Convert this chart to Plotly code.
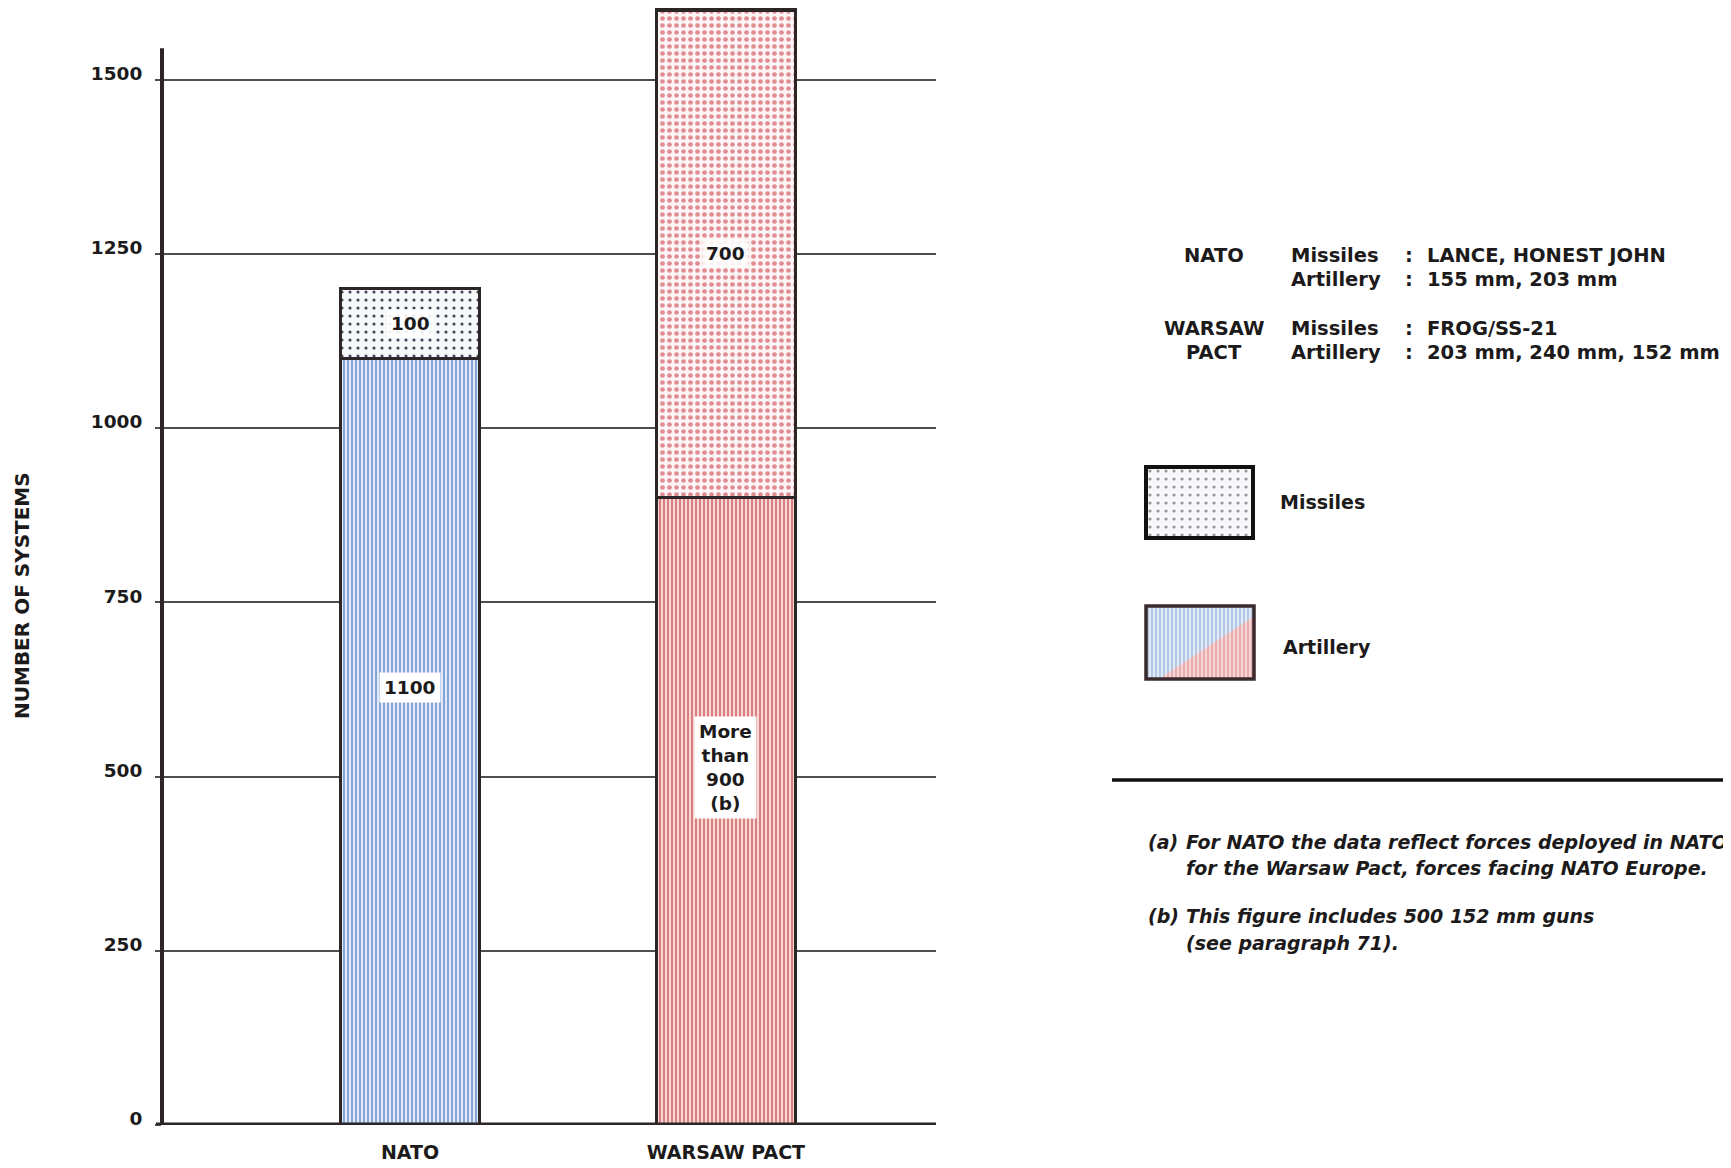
import plotly.graph_objects as go

# ---------------- data ----------------
categories = ["NATO", "WARSAW PACT"]
artillery = [1100, 900]
missiles = [100, 700]
artillery_labels = ["1100", "More<br>than<br>900<br>(b)"]
missile_labels = ["100", "700"]
y_ticks = [0, 250, 500, 750, 1000, 1250, 1500]

spec_rows = [
    ("NATO", "Missiles", "LANCE, HONEST JOHN"),
    ("", "Artillery", "155 mm, 203 mm"),
    ("WARSAW", "Missiles", "FROG/SS-21"),
    ("PACT", "Artillery", "203 mm, 240 mm, 152 mm"),
]
footnotes = [
    ("(a)", ["For NATO the data reflect forces deployed in NATO",
             "for the Warsaw Pact, forces facing NATO Europe."]),
    ("(b)", ["This figure includes 500 152 mm guns",
             "(see paragraph 71)."]),
]

# ---------------- geometry helpers ----------------
OFF = 8                      # page body margin
W, H = 1731 - OFF, 1168 - OFF
ML, MR, MT, MB = 154, 0, 0, 43
PW = W - ML - MR
PH = H - MT - MB
BASE = H - MB


def px(xr):
    return (xr - OFF - ML) / PW


def py(yr):
    return (BASE - (yr - OFF)) / PH


FONT = "DejaVu Sans"
INK = "#1c1a1a"
OUTLINE = "#2d2627"

ART_FG = ["#84a4d8", "#d9807f"]
ART_BG = ["#e2eaf6", "#f6d6d6"]
MIS_FG = ["#3f4658", "#e08c92"]
MIS_BG = ["#f7f8fa", "#fdf5f5"]
MIS_SIZE = [8, 7]
MIS_SOL = [0.12, 0.36]

fig = go.Figure()

for i, c in enumerate(categories):
    fig.add_trace(go.Bar(
        x=[c], y=[artillery[i]], width=0.44, cliponaxis=False,
        marker=dict(color=ART_BG[i], line=dict(color=OUTLINE, width=3.5),
                    pattern=dict(shape="|", fgcolor=ART_FG[i], bgcolor=ART_BG[i],
                                 fgopacity=1, size=4, solidity=0.5)),
        showlegend=False, hoverinfo="skip",
    ))
for i, c in enumerate(categories):
    fig.add_trace(go.Bar(
        x=[c], y=[missiles[i]], width=0.44, cliponaxis=False,
        marker=dict(color=MIS_BG[i], line=dict(color=OUTLINE, width=3.5),
                    pattern=dict(shape=".", fgcolor=MIS_FG[i], bgcolor=MIS_BG[i],
                                 fgopacity=1, size=MIS_SIZE[i], solidity=MIS_SOL[i])),
        showlegend=False, hoverinfo="skip",
    ))

annotations = []
for c, a, m, al, ml in zip(categories, artillery, missiles, artillery_labels, missile_labels):
    annotations.append(dict(x=c, y=a * 0.57, xref="x", yref="y", text=al, showarrow=False,
                            font=dict(family=FONT, size=18.5, color=INK, weight="bold"),
                            bgcolor="white", borderpad=4))
    annotations.append(dict(x=c, y=a + m / 2, xref="x", yref="y", text=ml, showarrow=False,
                            font=dict(family=FONT, size=18.5, color=INK, weight="bold"),
                            bgcolor="rgba(255,255,255,0.9)", borderpad=3))

annotations.append(dict(x=px(22), y=py(596), xref="paper", yref="paper",
                        xanchor="center", yanchor="middle",
                        text="NUMBER OF SYSTEMS", textangle=-90, showarrow=False,
                        font=dict(family=FONT, size=20, color=INK, weight="bold")))

row_y = [255, 279, 328, 352]
for (g, k, v), yy in zip(spec_rows, row_y):
    f = dict(family=FONT, size=19.5, color=INK, weight="bold")
    if g:
        annotations.append(dict(x=px(1214), y=py(yy), xref="paper", yref="paper", text=g,
                                showarrow=False, xanchor="center", yanchor="middle", font=f))
    annotations.append(dict(x=px(1289), y=py(yy), xref="paper", yref="paper", text=k,
                            showarrow=False, xanchor="left", yanchor="middle", font=f))
    annotations.append(dict(x=px(1409), y=py(yy), xref="paper", yref="paper", text=":",
                            showarrow=False, xanchor="center", yanchor="middle", font=f))
    annotations.append(dict(x=px(1425), y=py(yy), xref="paper", yref="paper", text=v,
                            showarrow=False, xanchor="left", yanchor="middle", font=f))

annotations.append(dict(x=px(1278), y=py(502), xref="paper", yref="paper", text="Missiles",
                        showarrow=False, xanchor="left", yanchor="middle",
                        font=dict(family=FONT, size=19, color=INK, weight="bold")))
annotations.append(dict(x=px(1281), y=py(647), xref="paper", yref="paper", text="Artillery",
                        showarrow=False, xanchor="left", yanchor="middle",
                        font=dict(family=FONT, size=19, color=INK, weight="bold")))

foot_y = [[842, 868], [916, 943]]
for (tag, lines), ys in zip(footnotes, foot_y):
    ff = dict(family=FONT, size=19, color=INK, weight="bold", style="italic")
    annotations.append(dict(x=px(1146), y=py(ys[0]), xref="paper", yref="paper", text=tag,
                            showarrow=False, xanchor="left", yanchor="middle", font=ff))
    for ln, yy in zip(lines, ys):
        annotations.append(dict(x=px(1184), y=py(yy), xref="paper", yref="paper", text=ln,
                                showarrow=False, xanchor="left", yanchor="middle", font=ff))

# legend swatches on auxiliary axes
sw_m = (1146, 1253, 467, 538)
sw_a = (1146, 1254, 606, 679)
fig.add_trace(go.Scatter(x=[0, 1, 1, 0, 0], y=[0, 0, 1, 1, 0], xaxis="x2", yaxis="y2",
                         mode="lines", line=dict(width=0), fill="toself", fillcolor=MIS_BG[0],
                         fillpattern=dict(shape=".", fgcolor="#333", bgcolor=MIS_BG[0],
                                          size=8, solidity=0.12),
                         showlegend=False, hoverinfo="skip"))
fig.add_trace(go.Scatter(x=[0, 1, 1, 0, 0], y=[0, 0, 1, 1, 0], xaxis="x3", yaxis="y3",
                         mode="lines", line=dict(width=0), fill="toself", fillcolor=ART_BG[0],
                         fillpattern=dict(shape="|", fgcolor=ART_FG[0], bgcolor=ART_BG[0],
                                          size=4, solidity=0.5),
                         showlegend=False, hoverinfo="skip"))
fig.add_trace(go.Scatter(x=[0.12, 1, 1, 0.12], y=[0, 0, 0.86, 0], xaxis="x3", yaxis="y3",
                         mode="lines", line=dict(width=0), fill="toself", fillcolor=ART_BG[1],
                         fillpattern=dict(shape="|", fgcolor=ART_FG[1], bgcolor=ART_BG[1],
                                          size=4, solidity=0.5),
                         showlegend=False, hoverinfo="skip"))

shapes = [
    dict(type="line", xref="paper", yref="y", x0=0, x1=0, y0=0, y1=1545,
         line=dict(color=OUTLINE, width=4), layer="above"),
    dict(type="line", xref="paper", yref="y", x0=px(156), x1=px(936), y0=0, y1=0,
         line=dict(color=OUTLINE, width=5), layer="above"),
    dict(type="line", xref="paper", yref="paper", x0=px(1112), x1=px(1731), y0=py(780), y1=py(780),
         line=dict(color="#111", width=3.5)),
    dict(type="rect", xref="paper", yref="paper", x0=px(sw_m[0]), x1=px(sw_m[1]),
         y0=py(sw_m[3]), y1=py(sw_m[2]), line=dict(color="#111", width=4), layer="above"),
    dict(type="rect", xref="paper", yref="paper", x0=px(sw_a[0]), x1=px(sw_a[1]),
         y0=py(sw_a[3]), y1=py(sw_a[2]), line=dict(color="#3a2a2e", width=3.5), layer="above"),
]

hidden = dict(visible=False, range=[0, 1], fixedrange=True)
fig.update_layout(
    width=W, height=H,
    margin=dict(l=ML, r=MR, t=MT, b=MB),
    barmode="stack",
    paper_bgcolor="white",
    plot_bgcolor="white",
    showlegend=False,
    annotations=annotations,
    shapes=shapes,
    xaxis=dict(domain=[0, px(936)], range=[-0.785, 1.665], type="category",
               categoryorder="array", categoryarray=categories,
               showline=False, showgrid=False, zeroline=False, ticks="",
               tickfont=dict(family=FONT, size=19, color=INK, weight="bold"),
               ticklabelstandoff=14),
    yaxis=dict(range=[0, PH / 0.697], tickvals=y_ticks, ticktext=[str(v) for v in y_ticks],
               showgrid=True, gridcolor="#4d4d4d", gridwidth=1.5, zeroline=False,
               showline=False, ticks="outside", ticklen=6, tickcolor="#4d4d4d", tickwidth=1.5,
               tickfont=dict(family=FONT, size=18.5, color=INK, weight="bold"),
               ticklabelstandoff=9, ticklabelshift=-6),
    xaxis2=dict(domain=[px(sw_m[0]), px(sw_m[1])], anchor="y2", **hidden),
    yaxis2=dict(domain=[py(sw_m[3]), py(sw_m[2])], anchor="x2", **hidden),
    xaxis3=dict(domain=[px(sw_a[0]), px(sw_a[1])], anchor="y3", **hidden),
    yaxis3=dict(domain=[py(sw_a[3]), py(sw_a[2])], anchor="x3", **hidden),
)

fig.write_html("out.html")
